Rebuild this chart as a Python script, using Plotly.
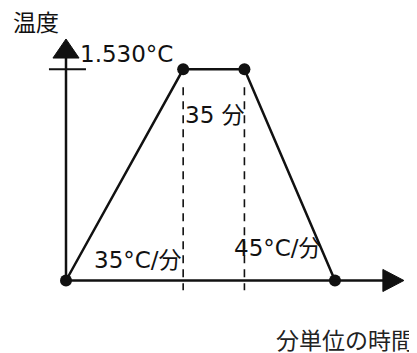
import plotly.graph_objects as go

# schematic heat profile: ramp up, hold, ramp down
time_min = [0, 44, 67, 101]
temp_c = [0, 1530, 1530, 0]
peak_label = "1.530°C"
hold_label = "35 分"
up_rate_label = "35°C/分"
down_rate_label = "45°C/分"
x_title = "分単位の時間"
y_title = "温度"

FONT = "DejaVu Sans, Noto Sans CJK JP, sans-serif"
INK = "#111111"

fig = go.Figure()

# dashed guides under the hold segment
for t in time_min[1:3]:
    fig.add_trace(go.Scatter(x=[t, t], y=[temp_c[1] - 130, -70], mode="lines",
                             line=dict(color=INK, width=1.6, dash="8px,6px"),
                             hoverinfo="skip", showlegend=False))

fig.add_trace(go.Scatter(x=time_min, y=temp_c, mode="lines+markers",
                         line=dict(color=INK, width=2.5),
                         marker=dict(color=INK, size=12),
                         showlegend=False))

# axes drawn by hand with arrow heads
shapes = [
    dict(type="line", x0=0, y0=0, x1=0, y1=1620, line=dict(color=INK, width=2.5)),
    dict(type="line", x0=0, y0=0, x1=120, y1=0, line=dict(color=INK, width=2.5)),
    dict(type="path", path="M -4.9,1612 L 4.9,1612 L 0,1750 Z",
         fillcolor=INK, line=dict(color=INK, width=1)),
    dict(type="path", path="M 119,80 L 119,-80 L 126.9,0 Z",
         fillcolor=INK, line=dict(color=INK, width=1)),
    dict(type="line", x0=-6.4, y0=1530, x1=7.5, y1=1530, line=dict(color=INK, width=2)),
]

ann = dict(font=dict(family=FONT, size=23, color=INK), showarrow=False,
           xanchor="left", yanchor="middle")
annotations = [
    dict(x=-20.5, y=1866, text=y_title, **ann),
    dict(x=4.6, y=1641, text=peak_label, **ann),
    dict(x=44.0, y=1199, text=hold_label, **ann),
    dict(x=9.6, y=149, text=up_rate_label, **ann),
    dict(x=62.4, y=235, text=down_rate_label, **ann),
    dict(x=131.6, y=-438, text=x_title, font=dict(family=FONT, size=23, color="#222222"),
         showarrow=False, xanchor="right", yanchor="middle"),
]

# page body adds an 8px margin, so the figure is 8px smaller each way
fig.update_layout(
    width=409, height=345,
    margin=dict(l=0, r=0, t=0, b=0),
    paper_bgcolor="white", plot_bgcolor="white",
    xaxis=dict(range=[-21.78, 131.81], visible=False, fixedrange=True),
    yaxis=dict(range=[-525.4, 1974.6], visible=False, fixedrange=True),
    shapes=shapes,
    annotations=annotations,
)

fig.write_html("out.html")
